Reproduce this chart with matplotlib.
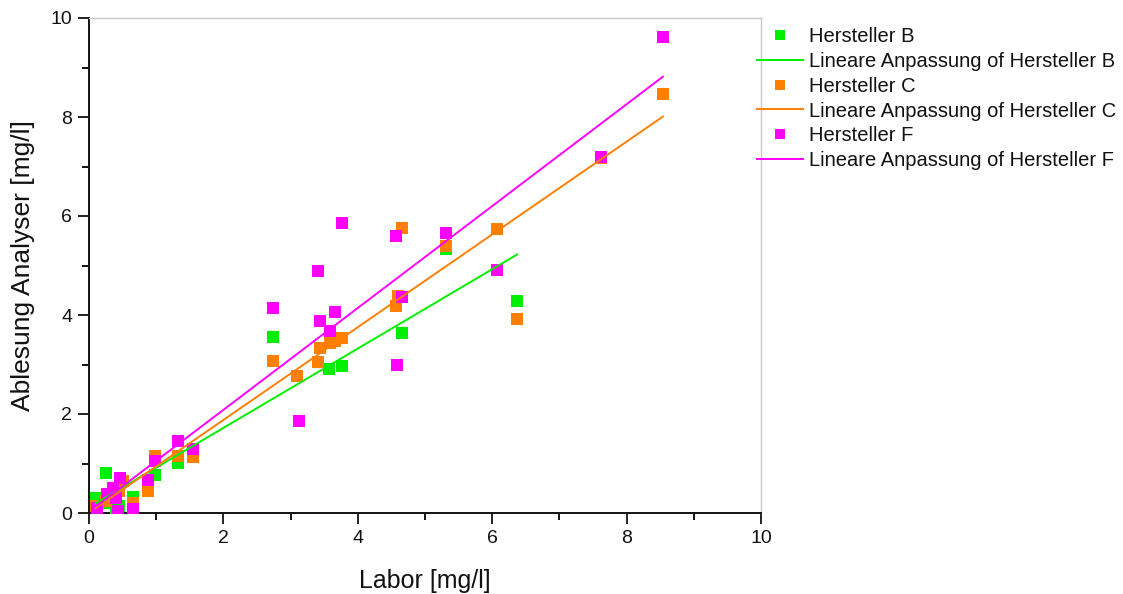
import numpy as np
import matplotlib
matplotlib.use("Agg")
import matplotlib.pyplot as plt
from matplotlib.ticker import MultipleLocator

plt.rcParams['font.family'] = ['Liberation Sans', 'DejaVu Sans']

# Laborwert vs. Ablesung des Analysers je Hersteller
b_labor = [0.10, 0.25, 0.30, 0.40, 0.45, 0.65, 0.98, 1.32, 2.74, 3.57, 3.76, 4.66, 5.31, 6.37]
b_analyser = [0.30, 0.81, 0.20, 0.10, 0.15, 0.32, 0.77, 1.01, 3.55, 2.91, 2.96, 3.64, 5.34, 4.29]

c_labor = [0.10, 0.25, 0.30, 0.45, 0.50, 0.65, 0.88, 0.98, 1.32, 1.55, 2.74, 3.10, 3.41,
           3.44, 3.59, 3.66, 3.76, 4.57, 4.60, 4.66, 5.31, 6.07, 6.37, 7.62, 8.54]
c_analyser = [0.15, 0.25, 0.35, 0.45, 0.65, 0.20, 0.45, 1.15, 1.15, 1.13, 3.08, 2.76, 3.05,
              3.34, 3.44, 3.48, 3.54, 4.19, 4.38, 5.76, 5.40, 5.73, 3.91, 7.17, 8.46]

f_labor = [0.12, 0.27, 0.35, 0.40, 0.43, 0.46, 0.66, 0.88, 0.98, 1.32, 1.55, 2.74, 3.13,
           3.41, 3.44, 3.59, 3.66, 3.76, 4.57, 4.58, 4.66, 5.31, 6.07, 7.62, 8.54]
f_analyser = [0.10, 0.38, 0.50, 0.30, 0.04, 0.71, 0.08, 0.67, 1.05, 1.46, 1.30, 4.15, 1.86,
              4.88, 3.87, 3.68, 4.07, 5.85, 5.59, 2.98, 4.37, 5.65, 4.90, 7.19, 9.62]

series = [
    ("Hersteller B", b_labor, b_analyser, "#00ee00"),
    ("Hersteller C", c_labor, c_analyser, "#ff8000"),
    ("Hersteller F", f_labor, f_analyser, "#ff00ff"),
]

fig = plt.figure(figsize=(11.23, 5.94), dpi=100)
ax = fig.add_axes([89 / 1123, 1 - 513 / 594, (761 - 89) / 1123, (513 - 18) / 594])

handles = []
labels = []
for name, x, y, col in series:
    x = np.asarray(x)
    y = np.asarray(y)
    sc, = ax.plot(x, y, linestyle='none', marker='s', markersize=8.8,
                  color=col, markeredgewidth=0, zorder=3)
    k, d = np.polyfit(x, y, 1)
    xf = np.linspace(x.min(), x.max(), 50)
    ln, = ax.plot(xf, k * xf + d, color=col, linewidth=1.4, zorder=4)
    handles += [sc, ln]
    labels += [name, "Lineare Anpassung of " + name]

ax.set_xlim(0, 10)
ax.set_ylim(0, 10)
ax.xaxis.set_major_locator(MultipleLocator(2))
ax.xaxis.set_minor_locator(MultipleLocator(1))
ax.yaxis.set_major_locator(MultipleLocator(2))
ax.yaxis.set_minor_locator(MultipleLocator(1))
ax.tick_params(which='major', direction='out', length=8, width=1.3, labelsize=14,
               colors='#111111', pad=4)
ax.tick_params(which='minor', direction='out', length=5, width=1.3)

for s in ('left', 'bottom'):
    ax.spines[s].set_linewidth(1.4)
    ax.spines[s].set_color('#111111')
for s in ('top', 'right'):
    ax.spines[s].set_linewidth(1.0)
    ax.spines[s].set_color('#c8c8c8')

ax.set_xlabel("Labor [mg/l]", fontsize=18, labelpad=16, color='#111111')
ax.set_ylabel("Ablesung Analyser [mg/l]", fontsize=19, labelpad=11, color='#111111')

leg = fig.legend(handles, labels, loc='upper left',
                 bbox_to_anchor=(757 / 1123, 1 - 27 / 594),
                 frameon=False, fontsize=14.5, handlelength=2.28, handletextpad=0.3,
                 labelspacing=0.29, borderaxespad=0, borderpad=0, markerscale=0.8)
for t in leg.get_texts():
    t.set_color('#111111')

fig.savefig("out.png", dpi=100)
